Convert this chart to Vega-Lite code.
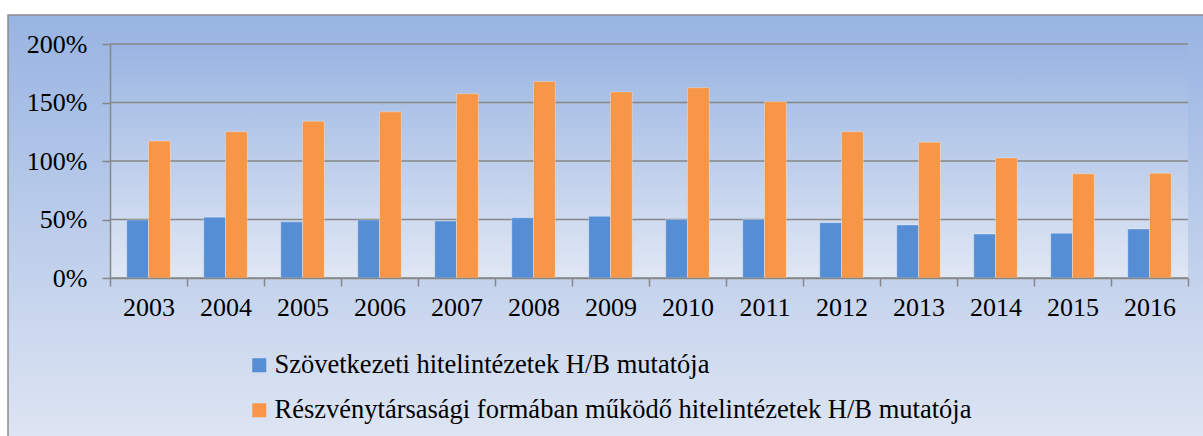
{
  "$schema": "https://vega.github.io/schema/vega-lite/v6.json",
  "autosize": "none",
  "padding": {"left": 8, "top": 15, "right": -3, "bottom": -3},
  "width": 1198,
  "height": 424,
  "background": "#ffffff",
  "config": {
    "view": {
      "fill": {"gradient": "linear", "x1": 0, "y1": 0, "x2": 0, "y2": 1, "stops": [{"offset": 0, "color": "#98B4E2"}, {"offset": 1, "color": "#DEE5F3"}]},
      "stroke": "#8c8c8c",
      "strokeWidth": 1.5
    },
    "font": "Liberation Serif"
  },
  "datasets": {
    "main": [
      {"year": "2003", "series": "Szövetkezeti hitelintézetek H/B mutatója", "value": 0.496},
      {"year": "2004", "series": "Szövetkezeti hitelintézetek H/B mutatója", "value": 0.52},
      {"year": "2005", "series": "Szövetkezeti hitelintézetek H/B mutatója", "value": 0.48},
      {"year": "2006", "series": "Szövetkezeti hitelintézetek H/B mutatója", "value": 0.496},
      {"year": "2007", "series": "Szövetkezeti hitelintézetek H/B mutatója", "value": 0.487},
      {"year": "2008", "series": "Szövetkezeti hitelintézetek H/B mutatója", "value": 0.515},
      {"year": "2009", "series": "Szövetkezeti hitelintézetek H/B mutatója", "value": 0.527},
      {"year": "2010", "series": "Szövetkezeti hitelintézetek H/B mutatója", "value": 0.5},
      {"year": "2011", "series": "Szövetkezeti hitelintézetek H/B mutatója", "value": 0.5},
      {"year": "2012", "series": "Szövetkezeti hitelintézetek H/B mutatója", "value": 0.473},
      {"year": "2013", "series": "Szövetkezeti hitelintézetek H/B mutatója", "value": 0.453},
      {"year": "2014", "series": "Szövetkezeti hitelintézetek H/B mutatója", "value": 0.376},
      {"year": "2015", "series": "Szövetkezeti hitelintézetek H/B mutatója", "value": 0.382},
      {"year": "2016", "series": "Szövetkezeti hitelintézetek H/B mutatója", "value": 0.419},
      {"year": "2003", "series": "\u2005Részvénytársasági formában működő hitelintézetek H/B mutatója", "value": 1.17},
      {"year": "2004", "series": "\u2005Részvénytársasági formában működő hitelintézetek H/B mutatója", "value": 1.25},
      {"year": "2005", "series": "\u2005Részvénytársasági formában működő hitelintézetek H/B mutatója", "value": 1.34},
      {"year": "2006", "series": "\u2005Részvénytársasági formában működő hitelintézetek H/B mutatója", "value": 1.42},
      {"year": "2007", "series": "\u2005Részvénytársasági formában működő hitelintézetek H/B mutatója", "value": 1.575},
      {"year": "2008", "series": "\u2005Részvénytársasági formában működő hitelintézetek H/B mutatója", "value": 1.68},
      {"year": "2009", "series": "\u2005Részvénytársasági formában működő hitelintézetek H/B mutatója", "value": 1.59},
      {"year": "2010", "series": "\u2005Részvénytársasági formában működő hitelintézetek H/B mutatója", "value": 1.626},
      {"year": "2011", "series": "\u2005Részvénytársasági formában működő hitelintézetek H/B mutatója", "value": 1.507},
      {"year": "2012", "series": "\u2005Részvénytársasági formában működő hitelintézetek H/B mutatója", "value": 1.25},
      {"year": "2013", "series": "\u2005Részvénytársasági formában működő hitelintézetek H/B mutatója", "value": 1.16},
      {"year": "2014", "series": "\u2005Részvénytársasági formában működő hitelintézetek H/B mutatója", "value": 1.026},
      {"year": "2015", "series": "\u2005Részvénytársasági formában működő hitelintézetek H/B mutatója", "value": 0.89},
      {"year": "2016", "series": "\u2005Részvénytársasági formában működő hitelintézetek H/B mutatója", "value": 0.895}
    ],
    "grid": [{"v": 0}, {"v": 0.5}, {"v": 1}, {"v": 1.5}, {"v": 2}]
  },
  "data": {"name": "main"},
  "layer": [
    {
      "mark": {
        "type": "rect",
        "fill": {"gradient": "linear", "x1": 0, "y1": 0, "x2": 0, "y2": 1, "stops": [{"offset": 0, "color": "#9AB5E2"}, {"offset": 1, "color": "#E0E7F4"}]},
        "strokeWidth": 0
      },
      "encoding": {
        "x": {
          "field": "year", "type": "nominal",
          "scale": {"range": [102, 1180], "paddingInner": 0, "paddingOuter": 0},
          "axis": {
            "orient": "bottom", "offset": -161, "title": null, "labelAngle": 0,
            "tickBand": "extent", "tickSize": 8, "tickColor": "#878787", "tickWidth": 1.5,
            "domainColor": "#878787", "domainWidth": 1.5, "grid": false,
            "labelFont": "Liberation Serif", "labelFontSize": 26, "labelColor": "#000000", "labelPadding": 8,
            "zindex": 1
          }
        },
        "y": {
          "datum": 0, "type": "quantitative",
          "scale": {"domain": [0, 2], "range": [263, 29], "nice": false, "zero": true},
          "axis": {
            "orient": "left", "offset": -102, "title": null, "format": ".0%", "values": [0, 0.5, 1, 1.5, 2],
            "tickSize": 8, "tickColor": "#878787", "tickWidth": 1.5,
            "domainColor": "#878787", "domainWidth": 1.5, "grid": false,
            "labelFont": "Liberation Serif", "labelFontSize": 26, "labelColor": "#000000", "labelPadding": 15,
            "zindex": 1
          }
        },
        "y2": {"datum": 2}
      }
    },
    {
      "data": {"name": "grid"},
      "mark": {"type": "rule", "color": "#878787", "strokeWidth": 1.5},
      "encoding": {
        "y": {"field": "v", "type": "quantitative"},
        "x": {"datum": "2003", "type": "nominal", "bandPosition": 0},
        "x2": {"datum": "2016", "bandPosition": 1}
      }
    },
    {
      "mark": {"type": "bar", "stroke": "#ffffff", "strokeOpacity": 0.3, "strokeWidth": 1},
      "encoding": {
        "x": {"field": "year", "type": "nominal"},
        "xOffset": {
          "field": "series", "type": "nominal",
          "scale": {"domain": ["Szövetkezeti hitelintézetek H/B mutatója", "\u2005Részvénytársasági formában működő hitelintézetek H/B mutatója"], "paddingInner": 0, "paddingOuter": 0.77}
        },
        "y": {"field": "value", "type": "quantitative"},
        "color": {
          "field": "series", "type": "nominal",
          "scale": {"domain": ["Szövetkezeti hitelintézetek H/B mutatója", "\u2005Részvénytársasági formában működő hitelintézetek H/B mutatója"], "range": ["#558ED5", "#F79646"]},
          "legend": {
            "orient": "none", "legendX": 238, "legendY": 337, "direction": "vertical", "title": null,
            "padding": 0, "offset": 0,
            "symbolType": "square", "symbolSize": 196, "symbolStrokeWidth": 0, "symbolOpacity": 1,
            "labelFont": "Liberation Serif", "labelFontSize": 26.5, "labelColor": "#000000", "labelLimit": 0,
            "labelOffset": 2, "rowPadding": 18
          }
        }
      }
    }
  ]
}
